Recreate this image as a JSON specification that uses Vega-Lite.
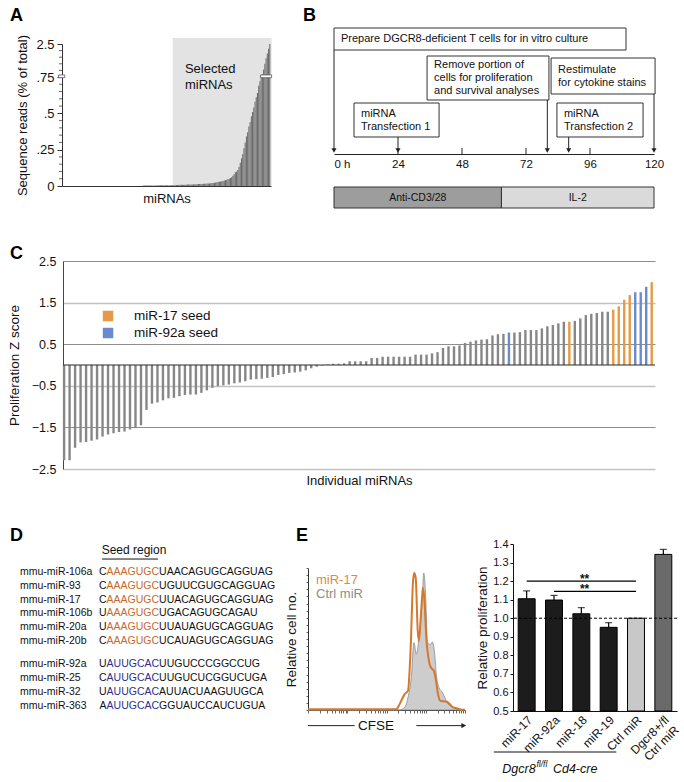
{
"$schema": "https://vega.github.io/schema/vega-lite/v6.json",
"background": "white",
"padding": {"left": 7, "top": 6, "right": 0, "bottom": 0},
"spacing": 36,
"bounds": "full",
"resolve": {"scale": {"color": "independent", "fill": "independent"}},
"config": {
  "font": "Liberation Sans",
  "view": {"stroke": null},
  "title": {"fontSize": 18, "fontWeight": "bold", "anchor": "start", "frame": "group", "baseline": "alphabetic", "color": "#000", "font": "Liberation Sans"},
  "axis": {"labelFont": "Liberation Sans", "titleFont": "Liberation Sans", "labelColor": "#111", "titleColor": "#111", "titleFontWeight": "normal", "domainColor": "#222", "tickColor": "#222", "grid": false, "labelFontSize": 12, "titleFontSize": 13, "labelOverlap": false},
  "text": {"font": "Liberation Sans", "color": "#111"}
},
"vconcat": [
 {
  "hconcat": [
   {
    "width": 251, "height": 158,
    "title": {"text": "A", "dx": -10, "offset": 3},
    "layer": [
      {"data": {"values": [{"i": 90, "i2": 170.5}]}, "mark": {"type": "rect", "color": "#e3e3e3"}, "encoding": {"x": {"field": "i", "type": "quantitative"}, "x2": {"field": "i2"}, "y": {"datum": 0}, "y2": {"datum": 2.82}}},
      {"data": {"values": [
        {"i":66,"v":0.004},{"i":67,"v":0.004},{"i":68,"v":0.004},{"i":69,"v":0.004},{"i":70,"v":0.004},{"i":71,"v":0.004},{"i":72,"v":0.004},{"i":73,"v":0.004},{"i":74,"v":0.004},{"i":75,"v":0.004},{"i":76,"v":0.004},{"i":77,"v":0.004},
        {"i":78,"v":0.005},{"i":79,"v":0.005},{"i":80,"v":0.005},{"i":81,"v":0.005},{"i":82,"v":0.005},{"i":83,"v":0.005},{"i":84,"v":0.005},{"i":85,"v":0.005},{"i":86,"v":0.005},{"i":87,"v":0.005},{"i":88,"v":0.005},{"i":89,"v":0.005},
        {"i":90,"v":0.006},{"i":91,"v":0.006},{"i":92,"v":0.006},{"i":93,"v":0.007},{"i":94,"v":0.007},{"i":95,"v":0.007},{"i":96,"v":0.008},{"i":97,"v":0.008},{"i":98,"v":0.008},{"i":99,"v":0.009},{"i":100,"v":0.009},{"i":101,"v":0.009},{"i":102,"v":0.010},{"i":103,"v":0.010},{"i":104,"v":0.010},{"i":105,"v":0.011},{"i":106,"v":0.011},{"i":107,"v":0.011},{"i":108,"v":0.012},{"i":109,"v":0.012},{"i":110,"v":0.012},
        {"i":111,"v":0.013},{"i":112,"v":0.013},{"i":113,"v":0.014},{"i":114,"v":0.014},{"i":115,"v":0.015},{"i":116,"v":0.015},{"i":117,"v":0.016},{"i":118,"v":0.017},{"i":119,"v":0.018},{"i":120,"v":0.018},{"i":121,"v":0.019},{"i":122,"v":0.020},{"i":123,"v":0.021},{"i":124,"v":0.022},{"i":125,"v":0.024},
        {"i":126,"v":0.025},{"i":127,"v":0.027},{"i":128,"v":0.029},{"i":129,"v":0.031},{"i":130,"v":0.033},{"i":131,"v":0.035},{"i":132,"v":0.037},{"i":133,"v":0.040},{"i":134,"v":0.043},{"i":135,"v":0.047},
        {"i":136,"v":0.05},{"i":137,"v":0.055},{"i":138,"v":0.06},{"i":139,"v":0.07},{"i":140,"v":0.08},{"i":141,"v":0.094},
        {"i":142,"v":0.10},{"i":143,"v":0.11},{"i":144,"v":0.13},{"i":145,"v":0.16},{"i":146,"v":0.19},{"i":147,"v":0.22},{"i":148,"v":0.26},{"i":149,"v":0.30},{"i":150,"v":0.34},{"i":151,"v":0.37},{"i":152,"v":0.41},{"i":153,"v":0.44},{"i":154,"v":0.48},{"i":155,"v":0.51},{"i":156,"v":0.54},{"i":157,"v":0.58},{"i":158,"v":0.61},{"i":159,"v":0.64},{"i":160,"v":0.69},{"i":161,"v":0.72},{"i":162,"v":0.75},{"i":163,"v":0.9},{"i":164,"v":1.15},{"i":165,"v":1.45},{"i":166,"v":1.75},{"i":167,"v":2.0},{"i":168,"v":2.25},{"i":169,"v":2.5}
      ]}, "mark": {"type": "bar", "color": "#6a6a6a", "size": 1.05},
       "encoding": {
        "x": {"field": "i", "type": "quantitative", "scale": {"domain": [0, 170], "range": [42, 251], "padding": 0, "nice": false, "zero": false}, "axis": {"title": "miRNAs", "labels": false, "ticks": false, "domainColor": "#333", "titlePadding": 6, "titleFontSize": 13}},
        "y": {"field": "v", "type": "quantitative", "scale": {"domain": [0, 0.75, 2.5], "range": [158, 49, 16], "nice": false, "zero": false}, "axis": {"title": "Sequence reads (% of total)", "values": [0, 0.25, 0.5, 0.75, 2.5], "tickCount": 20, "labelExpr": "datum.value == 0 ? '0' : datum.value == 2.5 ? '2.5' : replace(format(datum.value, '.2~f'), '0.', '.')", "labelOverlap": false, "offset": -42, "tickSize": 5, "labelPadding": 3, "labelFontSize": 13, "titleFontSize": 13, "titlePadding": 6, "domainColor": "#333", "tickColor": "#333"}}
       }},
      {"data": {"values": [{"v":0.05},{"v":0.1},{"v":0.15},{"v":0.2},{"v":0.3},{"v":0.35},{"v":0.4},{"v":0.45},{"v":0.55},{"v":0.6},{"v":0.65},{"v":0.7},{"v":1.1},{"v":1.45},{"v":1.8},{"v":2.15}]}, "mark": {"type": "rule", "color": "#444", "strokeWidth": 0.8}, "encoding": {"x": {"datum": -2.4}, "x2": {"datum": 0}, "y": {"field": "v", "type": "quantitative"}}},
      {"data": {"values": [{}]}, "mark": {"type": "rect", "fill": "#ffffff", "stroke": "#555555", "strokeWidth": 0.8}, "encoding": {"x": {"datum": 161.5}, "x2": {"datum": 170.5}, "y": {"datum": 0.745}, "y2": {"datum": 0.86}}},
      {"data": {"values": [{}]}, "mark": {"type": "rect", "fill": "#ffffff", "stroke": "#555555", "strokeWidth": 0.8}, "encoding": {"x": {"datum": -2.8}, "x2": {"datum": 2.2}, "y": {"datum": 0.745}, "y2": {"datum": 0.86}}},
      {"data": {"values": [{}]}, "mark": {"type": "text", "align": "left", "baseline": "top", "fontSize": 13, "lineBreak": "\n", "lineHeight": 16}, "encoding": {"x": {"datum": 100}, "y": {"datum": 1.49}, "text": {"value": "Selected\nmiRNAs"}}}
    ]
   },
   {
    "width": 320, "height": 180,
    "title": {"text": "B", "dx": -31, "offset": 3},
    "data": {"values": [
      {"kind": "step", "label": "Prepare DGCR8-deficient T cells for in vitro culture", "h1": 0, "h2": 109.5, "y1": 0, "y2": 22, "event": 0},
      {"kind": "step", "label": "Remove portion of\ncells for proliferation\nand survival analyses", "h1": 34.9, "h2": 80.6, "y1": 28, "y2": 72, "event": 80},
      {"kind": "step", "label": "Restimulate\nfor cytokine stains", "h1": 81.4, "h2": 120.4, "y1": 30, "y2": 66, "event": 120},
      {"kind": "step", "label": "miRNA\nTransfection 1", "h1": 7.5, "h2": 39.4, "y1": 75, "y2": 109, "event": 24},
      {"kind": "step", "label": "miRNA\nTransfection 2", "h1": 83.6, "h2": 115.9, "y1": 75, "y2": 109, "event": 88},
      {"kind": "anti", "label": "Anti-CD3/28", "h1": 0, "h2": 62.8, "y1": 159, "y2": 180},
      {"kind": "il2", "label": "IL-2", "h1": 62.8, "h2": 120, "y1": 159, "y2": 180}
    ]},
    "layer": [
      {"mark": {"type": "rect", "stroke": "#333333", "strokeWidth": 1},
       "encoding": {
        "x": {"field": "h1", "type": "quantitative", "scale": {"domain": [0, 120], "nice": false, "zero": false}, "axis": {"title": null, "values": [0, 24, 48, 72, 96, 120], "tickCount": 20, "labelExpr": "datum.value == 0 ? '0 h' : datum.label", "ticks": false, "offset": -54, "labelPadding": 4, "labelFontSize": 11.5, "labelFlush": false, "labelOverlap": false, "labelAlign": {"condition": {"test": "datum.value == 0", "value": "left"}, "value": "center"}, "domainColor": "#222"}},
        "x2": {"field": "h2"},
        "y": {"field": "y1", "type": "quantitative", "scale": {"domain": [0, 180], "reverse": true, "nice": false, "zero": false}, "axis": null},
        "y2": {"field": "y2"},
        "fill": {"field": "kind", "type": "nominal", "scale": {"domain": ["step", "anti", "il2"], "range": ["#ffffff", "#9d9d9d", "#dadada"]}, "legend": null}}},
      {"transform": [{"filter": "datum.kind == 'step'"}, {"calculate": "(datum.y1 + datum.y2) / 2 - (length(split(datum.label, '\\n')) - 1) * 6.5", "as": "ym"}], "mark": {"type": "text", "align": "left", "baseline": "middle", "dx": 7, "fontSize": 11, "lineBreak": "\n", "lineHeight": 13}, "encoding": {"x": {"field": "h1", "type": "quantitative"}, "y": {"field": "ym", "type": "quantitative", "axis": null}, "text": {"field": "label"}}},
      {"transform": [{"filter": "datum.kind != 'step'"}, {"calculate": "(datum.y1 + datum.y2) / 2", "as": "ym"}, {"calculate": "(datum.h1 + datum.h2) / 2", "as": "hm"}], "mark": {"type": "text", "align": "center", "baseline": "middle", "fontSize": 10.5}, "encoding": {"x": {"field": "hm", "type": "quantitative"}, "y": {"field": "ym", "type": "quantitative", "axis": null}, "text": {"field": "label"}}},
      {"transform": [{"filter": "datum.kind == 'step'"}], "mark": {"type": "rule", "color": "#222222", "strokeWidth": 1}, "encoding": {"x": {"field": "event", "type": "quantitative"}, "y": {"field": "y2", "type": "quantitative", "axis": null}, "y2": {"datum": 123}}},
      {"transform": [{"filter": "datum.kind == 'step'"}], "mark": {"type": "point", "shape": "triangle-down", "filled": true, "size": 26, "color": "#222222", "opacity": 1}, "encoding": {"x": {"field": "event", "type": "quantitative"}, "y": {"datum": 122.5, "axis": null}}},
      {"data": {"values": [{"t": 24}, {"t": 48}, {"t": 72}, {"t": 96}]}, "mark": {"type": "rule", "color": "#222222", "strokeWidth": 1}, "encoding": {"x": {"field": "t", "type": "quantitative"}, "y": {"datum": 120, "axis": null}, "y2": {"datum": 126}}}
    ]
   }
  ],
  "spacing": 63,
  "bounds": "flush"
 },
 {
  "width": 635, "height": 229,
  "title": {"text": "C", "dx": -10, "offset": -8},
  "layer": [
    {"data": {"values": [
      {"n":1,"z":-2.29,"seed":"other"},{"n":2,"z":-2.29,"seed":"other"},{"n":3,"z":-1.99,"seed":"other"},{"n":4,"z":-1.86,"seed":"other"},{"n":5,"z":-1.85,"seed":"other"},{"n":6,"z":-1.82,"seed":"other"},{"n":7,"z":-1.79,"seed":"other"},{"n":8,"z":-1.72,"seed":"other"},{"n":9,"z":-1.67,"seed":"other"},{"n":10,"z":-1.64,"seed":"other"},
      {"n":11,"z":-1.61,"seed":"other"},{"n":12,"z":-1.60,"seed":"other"},{"n":13,"z":-1.55,"seed":"other"},{"n":14,"z":-1.51,"seed":"other"},{"n":15,"z":-1.45,"seed":"other"},{"n":16,"z":-1.08,"seed":"other"},{"n":17,"z":-0.93,"seed":"other"},{"n":18,"z":-0.90,"seed":"other"},{"n":19,"z":-0.85,"seed":"other"},{"n":20,"z":-0.80,"seed":"other"},
      {"n":21,"z":-0.79,"seed":"other"},{"n":22,"z":-0.75,"seed":"other"},{"n":23,"z":-0.72,"seed":"other"},{"n":24,"z":-0.71,"seed":"other"},{"n":25,"z":-0.71,"seed":"other"},{"n":26,"z":-0.67,"seed":"other"},{"n":27,"z":-0.61,"seed":"other"},{"n":28,"z":-0.55,"seed":"other"},{"n":29,"z":-0.51,"seed":"other"},{"n":30,"z":-0.49,"seed":"other"},
      {"n":31,"z":-0.47,"seed":"other"},{"n":32,"z":-0.44,"seed":"other"},{"n":33,"z":-0.42,"seed":"other"},{"n":34,"z":-0.39,"seed":"other"},{"n":35,"z":-0.35,"seed":"other"},{"n":36,"z":-0.34,"seed":"other"},{"n":37,"z":-0.33,"seed":"other"},{"n":38,"z":-0.31,"seed":"other"},{"n":39,"z":-0.29,"seed":"other"},{"n":40,"z":-0.24,"seed":"other"},
      {"n":41,"z":-0.22,"seed":"other"},{"n":42,"z":-0.19,"seed":"other"},{"n":43,"z":-0.18,"seed":"other"},{"n":44,"z":-0.16,"seed":"other"},{"n":45,"z":-0.13,"seed":"other"},{"n":46,"z":-0.08,"seed":"other"},{"n":47,"z":-0.04,"seed":"other"},{"n":48,"z":-0.01,"seed":"other"},{"n":49,"z":0.01,"seed":"other"},{"n":50,"z":0.03,"seed":"other"},
      {"n":51,"z":0.03,"seed":"other"},{"n":52,"z":0.04,"seed":"other"},{"n":53,"z":0.09,"seed":"other"},{"n":54,"z":0.09,"seed":"other"},{"n":55,"z":0.09,"seed":"other"},{"n":56,"z":0.09,"seed":"other"},{"n":57,"z":0.17,"seed":"other"},{"n":58,"z":0.17,"seed":"other"},{"n":59,"z":0.2,"seed":"other"},{"n":60,"z":0.2,"seed":"other"},
      {"n":61,"z":0.2,"seed":"other"},{"n":62,"z":0.2,"seed":"other"},{"n":63,"z":0.2,"seed":"other"},{"n":64,"z":0.2,"seed":"other"},{"n":65,"z":0.25,"seed":"other"},{"n":66,"z":0.25,"seed":"other"},{"n":67,"z":0.25,"seed":"other"},{"n":68,"z":0.28,"seed":"other"},{"n":69,"z":0.31,"seed":"other"},{"n":70,"z":0.41,"seed":"other"},
      {"n":71,"z":0.45,"seed":"other"},{"n":72,"z":0.45,"seed":"other"},{"n":73,"z":0.47,"seed":"other"},{"n":74,"z":0.53,"seed":"other"},{"n":75,"z":0.56,"seed":"other"},{"n":76,"z":0.59,"seed":"other"},{"n":77,"z":0.61,"seed":"other"},{"n":78,"z":0.62,"seed":"other"},{"n":79,"z":0.71,"seed":"other"},{"n":80,"z":0.74,"seed":"other"},
      {"n":81,"z":0.75,"seed":"other"},{"n":82,"z":0.78,"seed":"miR-92a seed"},{"n":83,"z":0.78,"seed":"other"},{"n":84,"z":0.79,"seed":"other"},{"n":85,"z":0.84,"seed":"other"},{"n":86,"z":0.84,"seed":"other"},{"n":87,"z":0.84,"seed":"other"},{"n":88,"z":0.88,"seed":"other"},{"n":89,"z":0.93,"seed":"other"},{"n":90,"z":0.96,"seed":"other"},
      {"n":91,"z":1.0,"seed":"other"},{"n":92,"z":1.04,"seed":"other"},{"n":93,"z":1.04,"seed":"miR-17 seed"},{"n":94,"z":1.06,"seed":"other"},{"n":95,"z":1.12,"seed":"other"},{"n":96,"z":1.2,"seed":"other"},{"n":97,"z":1.23,"seed":"other"},{"n":98,"z":1.25,"seed":"other"},{"n":99,"z":1.28,"seed":"other"},{"n":100,"z":1.28,"seed":"other"},
      {"n":101,"z":1.33,"seed":"miR-17 seed"},{"n":102,"z":1.41,"seed":"miR-17 seed"},{"n":103,"z":1.57,"seed":"miR-17 seed"},{"n":104,"z":1.68,"seed":"miR-17 seed"},{"n":105,"z":1.75,"seed":"miR-92a seed"},{"n":106,"z":1.75,"seed":"miR-92a seed"},{"n":107,"z":1.88,"seed":"miR-92a seed"},{"n":108,"z":1.99,"seed":"miR-17 seed"}
     ]},
     "mark": {"type": "bar", "size": 2.4},
     "encoding": {
      "x": {"field": "n", "type": "quantitative", "scale": {"domain": [0.8, 108.6], "range": [43, 635], "padding": 0, "nice": false, "zero": false}, "axis": {"title": "Individual miRNAs", "labels": false, "ticks": false, "domain": false, "offset": -21, "titlePadding": 5, "titleFontSize": 13}},
      "y": {"field": "z", "type": "quantitative", "scale": {"domain": [-2.5, 2.5], "range": [208, 0], "nice": false, "zero": false}, "axis": {"title": "Proliferation Z score", "values": [-2.5, -1.5, -0.5, 0.5, 1.5, 2.5], "tickCount": 20, "format": ".1f", "grid": true, "gridColor": {"condition": {"test": "datum.value == 2.5 || datum.value == 0.5 || datum.value == -1.5", "value": "#8e8e8e"}, "value": "#c2c2c2"}, "gridWidth": {"condition": {"test": "datum.value == 2.5 || datum.value == 0.5 || datum.value == -1.5", "value": 1}, "value": 1.5}, "ticks": false, "labelPadding": 7, "labelFontSize": 12.5, "titleFontSize": 13.5, "titlePadding": 10, "offset": -43, "domainColor": "#444"}},
      "color": {"field": "seed", "type": "nominal", "scale": {"domain": ["miR-17 seed", "miR-92a seed", "other"], "range": ["#e59b45", "#6a8ad0", "#878787"]}, "legend": null}
     }},
    {"data": {"values": [{}]}, "mark": {"type": "rule", "color": "#2a2a2a", "strokeWidth": 1}, "encoding": {"x": {"datum": 0.8}, "x2": {"datum": 108.6}, "y": {"datum": 0}}},
    {"data": {"values": [{}]}, "mark": {"type": "square", "size": 110, "color": "#e59b45", "opacity": 1}, "encoding": {"x": {"datum": 9.0}, "y": {"datum": 1.178}}},
    {"data": {"values": [{}]}, "mark": {"type": "square", "size": 110, "color": "#6a8ad0", "opacity": 1}, "encoding": {"x": {"datum": 9.0}, "y": {"datum": 0.769}}},
    {"data": {"values": [{}]}, "mark": {"type": "text", "align": "left", "baseline": "middle", "fontSize": 13.5}, "encoding": {"x": {"datum": 13.73}, "y": {"datum": 1.178}, "text": {"value": "miR-17 seed"}}},
    {"data": {"values": [{}]}, "mark": {"type": "text", "align": "left", "baseline": "middle", "fontSize": 13.5}, "encoding": {"x": {"datum": 13.73}, "y": {"datum": 0.769}, "text": {"value": "miR-92a seed"}}}
  ]
 },
 {
  "hconcat": [
   {
    "width": 240, "height": 165,
    "title": {"text": "D", "dx": -10, "offset": -1},
    "data": {"values": [
      {"line":0,"name":"mmu-miR-106a","first":"C","seed":"AAAGUGC","rest":"UAACAGUGCAGGUAG","family":"miR-17"},
      {"line":1,"name":"mmu-miR-93","first":"C","seed":"AAAGUGC","rest":"UGUUCGUGCAGGUAG","family":"miR-17"},
      {"line":2,"name":"mmu-miR-17","first":"C","seed":"AAAGUGC","rest":"UUACAGUGCAGGUAG","family":"miR-17"},
      {"line":3,"name":"mmu-miR-106b","first":"U","seed":"AAAGUGC","rest":"UGACAGUGCAGAU","family":"miR-17"},
      {"line":4,"name":"mmu-miR-20a","first":"U","seed":"AAAGUGC","rest":"UUAUAGUGCAGGUAG","family":"miR-17"},
      {"line":5,"name":"mmu-miR-20b","first":"C","seed":"AAAGUGC","rest":"UCAUAGUGCAGGUAG","family":"miR-17"},
      {"line":7,"name":"mmu-miR-92a","first":"U","seed":"AUUGCAC","rest":"UUGUCCCGGCCUG","family":"miR-92a"},
      {"line":8,"name":"mmu-miR-25","first":"C","seed":"AUUGCAC","rest":"UUGUCUCGGUCUGA","family":"miR-92a"},
      {"line":9,"name":"mmu-miR-32","first":"U","seed":"AUUGCAC","rest":"AUUACUAAGUUGCA","family":"miR-92a"},
      {"line":10,"name":"mmu-miR-363","first":"A","seed":"AUUGCAC","rest":"GGUAUCCAUCUGUA","family":"miR-92a"}
    ]},
    "layer": [
      {"mark": {"type": "text", "align": "left", "baseline": "middle", "fontSize": 10.5, "color": "#111"}, "encoding": {"x": {"datum": 0, "type": "quantitative", "scale": {"domain": [0, 240], "range": [0, 240], "nice": false, "zero": false}, "axis": null}, "y": {"field": "line", "type": "quantitative", "scale": {"domain": [0, 5, 7, 10], "range": [28, 97, 120, 162], "nice": false, "zero": false}, "axis": null}, "text": {"field": "name"}}},
      {"mark": {"type": "text", "align": "right", "baseline": "middle", "fontSize": 10.5, "color": "#111"}, "encoding": {"x": {"datum": 86.6, "axis": null}, "y": {"field": "line", "type": "quantitative", "axis": null}, "text": {"field": "first"}}},
      {"mark": {"type": "text", "align": "left", "baseline": "middle", "fontSize": 10.5}, "encoding": {"x": {"datum": 86.6, "axis": null}, "y": {"field": "line", "type": "quantitative", "axis": null}, "text": {"field": "seed"}, "color": {"field": "family", "type": "nominal", "scale": {"domain": ["miR-17", "miR-92a"], "range": ["#c8692a", "#2f2f8c"]}, "legend": null}}},
      {"mark": {"type": "text", "align": "left", "baseline": "middle", "fontSize": 10.5, "color": "#111"}, "encoding": {"x": {"datum": 139.1, "axis": null}, "y": {"field": "line", "type": "quantitative", "axis": null}, "text": {"field": "rest"}}},
      {"data": {"values": [{}]}, "mark": {"type": "text", "align": "center", "baseline": "middle", "fontSize": 12}, "encoding": {"x": {"datum": 114, "axis": null}, "y": {"datum": -1.6, "axis": null}, "text": {"value": "Seed region"}}},
      {"data": {"values": [{}]}, "mark": {"type": "rule", "color": "#111", "strokeWidth": 1}, "encoding": {"x": {"datum": 82, "axis": null}, "x2": {"datum": 138}, "y": {"datum": -0.94, "axis": null}}}
    ]
   },
   {
    "width": 157, "height": 166,
    "title": {"text": "E", "dx": -12, "offset": -1},
    "layer": [
      {"data": {"values": [{"ch":0,"v":0},{"ch":584,"v":0},{"ch":616,"v":1.9},{"ch":637,"v":8.9},{"ch":658,"v":22.9},{"ch":675,"v":47.4},{"ch":690,"v":39.3},{"ch":711,"v":55.6},{"ch":728,"v":78.5},{"ch":737,"v":96.5},{"ch":750,"v":78.5},{"ch":760,"v":48.1},{"ch":771,"v":46.3},{"ch":781,"v":46.3},{"ch":792,"v":47.9},{"ch":807,"v":39.3},{"ch":817,"v":25.2},{"ch":834,"v":15.9},{"ch":856,"v":12.4},{"ch":871,"v":8.9},{"ch":892,"v":4.2},{"ch":924,"v":1.9},{"ch":955,"v":1.2},{"ch":998,"v":0}]},
       "mark": {"type": "area", "color": "#cdcdcd", "stroke": "#8a8a8a", "strokeWidth": 0.8, "interpolate": "monotone"},
       "encoding": {
        "x": {"field": "ch", "type": "quantitative", "scale": {"domain": [0, 1000], "nice": false, "zero": false}, "axis": {"title": null, "labels": false, "values": [0,75,119,151,175,195,211,226,239,250,325,369,401,425,445,461,476,489,500,575,619,651,675,695,711,726,739,750,825,869,901,925,945,961,976,989,1000], "tickCount": 100, "tickSize": 3, "domainColor": "#333", "tickColor": "#666"}},
        "y": {"field": "v", "type": "quantitative", "scale": {"domain": [0, 100], "range": [166, 24], "nice": false, "zero": false}, "axis": {"title": "Relative cell no.", "labels": false, "values": [0,5,10,15,20,25,30,35,40,45,50,55,60,65,70,75,80,85,90,95,100], "tickCount": 100, "tickSize": 2, "tickColor": "#666", "titleFontSize": 13.5, "titlePadding": 7, "domainColor": "#333"}}
       }},
      {"data": {"values": [{"ch":0,"v":0.6},{"ch":563,"v":0.6},{"ch":573,"v":1.9},{"ch":594,"v":6.5},{"ch":616,"v":11.2},{"ch":637,"v":13.6},{"ch":654,"v":43.9},{"ch":669,"v":90.7},{"ch":677,"v":96.5},{"ch":686,"v":93},{"ch":699,"v":55.6},{"ch":707,"v":48.6},{"ch":718,"v":65},{"ch":728,"v":81.3},{"ch":732,"v":86},{"ch":741,"v":78.5},{"ch":754,"v":50.5},{"ch":771,"v":34.1},{"ch":786,"v":29.4},{"ch":800,"v":28},{"ch":813,"v":22.4},{"ch":828,"v":11.2},{"ch":843,"v":6.5},{"ch":864,"v":6.1},{"ch":885,"v":5.8},{"ch":902,"v":4.2},{"ch":924,"v":1.9},{"ch":945,"v":1.2},{"ch":977,"v":0},{"ch":998,"v":0.3}]},
       "mark": {"type": "line", "color": "#d5782c", "strokeWidth": 2, "interpolate": "monotone"},
       "encoding": {"x": {"field": "ch", "type": "quantitative"}, "y": {"field": "v", "type": "quantitative"}}},
      {"data": {"values": [{}]}, "mark": {"type": "text", "align": "left", "baseline": "middle", "fontSize": 13, "color": "#dc8a43"}, "encoding": {"x": {"datum": 51}, "y": {"datum": 91.2}, "text": {"value": "miR-17"}}},
      {"data": {"values": [{}]}, "mark": {"type": "text", "align": "left", "baseline": "middle", "fontSize": 13, "color": "#8c8c8c"}, "encoding": {"x": {"datum": 51}, "y": {"datum": 81.6}, "text": {"value": "Ctrl miR"}}},
      {"data": {"values": [{}]}, "mark": {"type": "rule", "color": "#222", "strokeWidth": 1}, "encoding": {"x": {"datum": 0}, "x2": {"datum": 297}, "y": {"datum": -11}}},
      {"data": {"values": [{}]}, "mark": {"type": "rule", "color": "#222", "strokeWidth": 1}, "encoding": {"x": {"datum": 690}, "x2": {"datum": 985}, "y": {"datum": -11}}},
      {"data": {"values": [{}]}, "mark": {"type": "point", "shape": "triangle-right", "filled": true, "size": 30, "color": "#222", "opacity": 1}, "encoding": {"x": {"datum": 992}, "y": {"datum": -11}}},
      {"data": {"values": [{}]}, "mark": {"type": "text", "align": "center", "baseline": "middle", "fontSize": 13.5}, "encoding": {"x": {"datum": 433}, "y": {"datum": -11}, "text": {"value": "CFSE"}}}
    ]
   },
   {
    "width": 164, "height": 167,
    "resolve": {"scale": {"x": "independent"}},
    "layer": [
      {
        "data": {"values": [
          {"cond": "miR-17", "mean": 1.105, "upper": 1.147},
          {"cond": "miR-92a", "mean": 1.098, "upper": 1.123},
          {"cond": "miR-18", "mean": 1.024, "upper": 1.057},
          {"cond": "miR-19", "mean": 0.951, "upper": 0.976},
          {"cond": "Ctrl miR", "mean": 1.0, "upper": null},
          {"cond": "Dgcr8", "mean": 1.344, "upper": 1.371}
        ]},
        "layer": [
          {"mark": {"type": "bar", "stroke": "#000", "strokeWidth": 1},
           "encoding": {
            "x": {"field": "cond", "type": "nominal", "sort": null, "scale": {"paddingInner": 0.38, "paddingOuter": 0.19}, "axis": {"title": null, "labelAngle": -45, "labelFontSize": 12, "ticks": false, "domainColor": "#111", "labelPadding": 3, "labelExpr": "datum.value == 'Dgcr8' ? ['Dgcr8+/fl', 'Ctrl miR'] : datum.label"}},
            "y": {"field": "mean", "type": "quantitative", "title": "Relative proliferation", "scale": {"domain": [0.5, 1.4], "zero": false, "nice": false}, "axis": {"values": [0.5, 0.6, 0.7, 0.8, 0.9, 1.0, 1.1, 1.2, 1.3, 1.4], "tickCount": 20, "format": ".1f", "labelOverlap": false, "tickSize": 3, "labelPadding": 2, "labelFontSize": 11, "titleFontSize": 13.5, "titlePadding": 3, "domainColor": "#111", "tickColor": "#111"}},
            "y2": {"datum": 0.5},
            "fill": {"field": "cond", "type": "nominal", "scale": {"domain": ["miR-17", "miR-92a", "miR-18", "miR-19", "Ctrl miR", "Dgcr8"], "range": ["#1c1c1c", "#1c1c1c", "#1c1c1c", "#1c1c1c", "#c8c8c8", "#6a6a6a"]}, "legend": null}}},
          {"transform": [{"filter": "datum.upper != null"}], "mark": {"type": "rule", "color": "#000", "strokeWidth": 1.2}, "encoding": {"x": {"field": "cond", "type": "nominal", "sort": null}, "y": {"field": "mean", "type": "quantitative", "title": "Relative proliferation"}, "y2": {"field": "upper"}}},
          {"transform": [{"filter": "datum.upper != null"}], "mark": {"type": "tick", "color": "#000", "thickness": 1.2, "size": 7}, "encoding": {"x": {"field": "cond", "type": "nominal", "sort": null}, "y": {"field": "upper", "type": "quantitative", "title": "Relative proliferation"}}}
        ]
      },
      {"data": {"values": [{}]}, "mark": {"type": "rule", "color": "#000", "strokeDash": [3, 2], "strokeWidth": 1}, "encoding": {"y": {"datum": 1.0}}},
      {
        "data": {"values": [{"from": 0.5, "to": 4.5, "at": 1.2}, {"from": 1.5, "to": 4.5, "at": 1.145}]},
        "layer": [
          {"mark": {"type": "rule", "color": "#000", "strokeWidth": 1.3}, "encoding": {"x": {"field": "from", "type": "quantitative", "scale": {"domain": [0, 6], "nice": false, "zero": false}, "axis": null}, "x2": {"field": "to"}, "y": {"field": "at", "type": "quantitative", "title": "Relative proliferation"}}},
          {"mark": {"type": "text", "fontSize": 12, "fontWeight": "bold", "align": "center", "baseline": "alphabetic", "dy": 2}, "encoding": {"x": {"datum": 2.62, "axis": null}, "y": {"field": "at", "type": "quantitative", "title": "Relative proliferation"}, "text": {"value": "**"}}},
          {"data": {"values": [{}]}, "mark": {"type": "rule", "color": "#111", "strokeWidth": 1}, "encoding": {"x": {"datum": -0.7, "axis": null}, "x2": {"datum": 3.78}, "y": {"datum": 0.279}}},
          {"data": {"values": [{}]}, "mark": {"type": "text", "align": "right", "baseline": "middle", "fontSize": 12.5, "fontStyle": "italic"}, "encoding": {"x": {"datum": 0.83, "axis": null}, "y": {"datum": 0.189}, "text": {"value": "Dgcr8"}}},
          {"data": {"values": [{}]}, "mark": {"type": "text", "align": "left", "baseline": "middle", "fontSize": 8.5, "fontStyle": "italic"}, "encoding": {"x": {"datum": 0.86, "axis": null}, "y": {"datum": 0.216}, "text": {"value": "fl/fl"}}},
          {"data": {"values": [{}]}, "mark": {"type": "text", "align": "left", "baseline": "middle", "fontSize": 12.5, "fontStyle": "italic"}, "encoding": {"x": {"datum": 1.46, "axis": null}, "y": {"datum": 0.189}, "text": {"value": "Cd4-cre"}}}
        ]
      }
    ]
   }
  ],
  "spacing": 48,
  "bounds": "flush",
  "resolve": {"scale": {"color": "independent", "fill": "independent"}}
 }
]
}
